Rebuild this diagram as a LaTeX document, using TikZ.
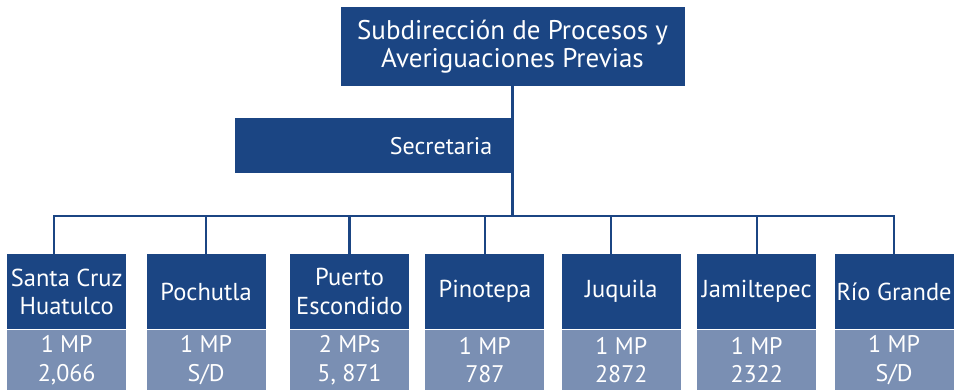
\documentclass[tikz,border=0pt]{standalone}
\usepackage{fontspec}
\setmainfont{PT Sans}
\usetikzlibrary{positioning,calc}
\definecolor{darkblue}{HTML}{1B4583}
\definecolor{paleblue}{HTML}{7A8FB3}

\begin{document}
\begin{tikzpicture}[
  x=1pt, y=1pt,
  node distance=0pt and 18pt,
  box/.style={fill=darkblue, text=white, align=center, inner sep=0pt},
  head/.style={box, minimum width=344pt, minimum height=79pt, font=\fontsize{27}{28}\selectfont},
  aide/.style={box, minimum width=277pt, minimum height=55pt, text width=237pt, align=right, inner xsep=20pt, font=\fontsize{24}{28}\selectfont},
  unit/.style={box, minimum width=119pt, minimum height=75pt, font=\fontsize{24.5}{28.5}\selectfont},
  data/.style={box, fill=paleblue, minimum width=119pt, minimum height=61pt, font=\fontsize{24}{28.3}\selectfont},
  link/.style={draw=darkblue, line width=2.2pt},
]
\useasboundingbox (0,0) rectangle (955,-390);

% ---- head and secretary ------------------------------------------------------
\node[head] (top) at (512.5,-46.5) {Subdirección de Procesos y\\Averiguaciones Previas};
\node[aide, below left=32pt and 0pt of top.south] (secr) {Secretaria};
\coordinate (bus) at ($(top.south)+(0,-130pt)$);

% ---- offices -------------------------------------------------------------------
\node[unit, anchor=north west] (s1) at (7,-254) {Santa Cruz\\Huatulco};
\node[unit, right=20pt of s1] (s2) {Pochutla};
\node[unit, right=24pt of s2] (s3) {Puerto\\Escondido};
\node[unit, right=16pt of s3] (s4) {Pinotepa};
\node[unit, right=17pt of s4] (s5) {Juquila};
\node[unit, right=16pt of s5] (s6) {Jamiltepec};
\node[unit, right=of s6] (s7) {Río Grande};

% ---- staff and case counts ---------------------------------------------------
\node[data, below=of s1] (d1) {1 MP\\2,066};
\node[data, below=of s2] (d2) {1 MP\\S/D};
\node[data, below=of s3] (d3) {2 MPs\\5, 871};
\node[data, below=of s4] (d4) {1 MP\\787};
\node[data, below=of s5] (d5) {1 MP\\2872};
\node[data, below=of s6] (d6) {1 MP\\2322};
\node[data, below=of s7] (d7) {1 MP\\S/D};

% ---- lines ---------------------------------------------------------------------
\draw[link] (top) -- (bus);
\draw[link] (bus) -| ($(s1.north)+(-13pt,0)$);
\draw[link] (bus) -| (s2);
\draw[link] (bus) -| (s3);
\draw[link] (bus) -| (s4);
\draw[link] (bus) -| ($(s5.north)+(-10pt,0)$);
\draw[link] (bus) -| (s6);
\draw[link] (bus) -| (s7);

\end{tikzpicture}
\end{document}
